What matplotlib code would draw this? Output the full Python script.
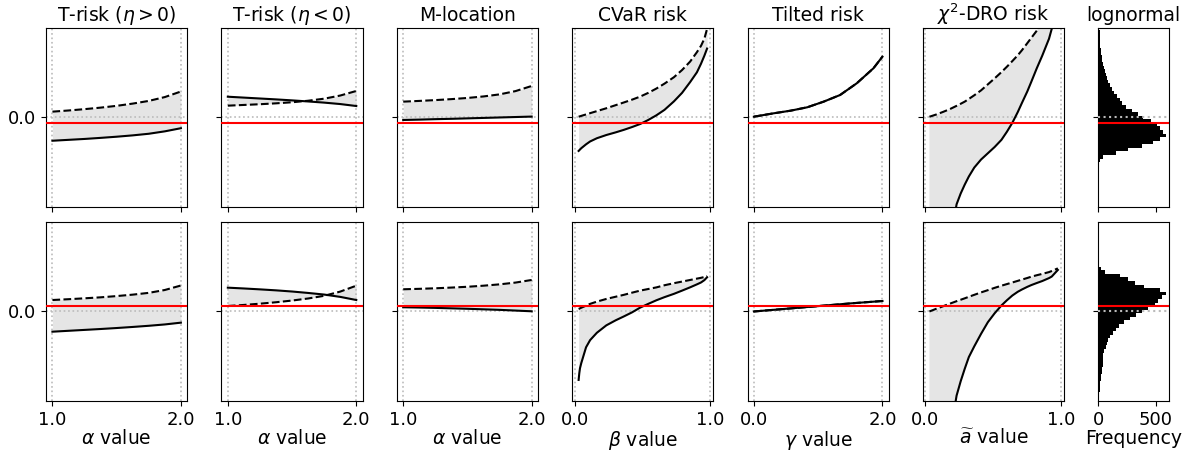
import matplotlib
matplotlib.use("Agg")
import matplotlib.pyplot as plt
import numpy as np

plt.rcParams['font.size'] = 13
plt.rcParams['axes.titlesize'] = 13.5
plt.rcParams['axes.labelsize'] = 13.5

titles = ['T-risk ($\\eta > 0$)', 'T-risk ($\\eta < 0$)', 'M-location',
          'CVaR risk', 'Tilted risk', '$\\chi^2$-DRO risk', 'lognormal']
xlabels = ['$\\alpha$ value', '$\\alpha$ value', '$\\alpha$ value',
           '$\\beta$ value', '$\\gamma$ value', '$\\widetilde{a}$ value', 'Frequency']
xticks = [[1.0, 2.0], [1.0, 2.0], [1.0, 2.0], [0.0, 1.0], [0.0, 2.0], [0.0, 1.0]]

# red reference line (true value) for each row
truth = [-0.058, 0.066]

# x grids
x_alpha = [1.0, 1.125, 1.25, 1.375, 1.5, 1.625, 1.75, 1.875, 2.0]
x_beta = [0.025, 0.03, 0.035, 0.045, 0.08, 0.11, 0.16, 0.23, 0.30, 0.36, 0.42, 0.48, 0.54,
          0.60, 0.66, 0.73, 0.79, 0.85, 0.90, 0.93, 0.955, 0.975]
x_gamma = [0.0, 0.31, 0.57, 0.83, 1.085, 1.34, 1.6, 1.86, 2.0]
x_gamma_b = [0.0, 0.5, 1.0, 1.5, 2.0]
x_a = [0.03, 0.08, 0.13, 0.18, 0.23, 0.26, 0.29, 0.32, 0.36, 0.41, 0.46, 0.51, 0.56, 0.60,
       0.64, 0.68, 0.71, 0.75, 0.78, 0.82, 0.86, 0.91, 0.93, 0.975]

# top row (dashed, solid)
tpos_dash_top = [0.065, 0.078, 0.093, 0.11, 0.13, 0.155, 0.185, 0.228, 0.29]
tpos_solid_top = [-0.26, -0.25, -0.24, -0.228, -0.215, -0.2, -0.182, -0.155, -0.12]
tneg_dash_top = [0.132, 0.14, 0.148, 0.158, 0.17, 0.187, 0.21, 0.245, 0.296]
tneg_solid_top = [0.232, 0.222, 0.212, 0.202, 0.191, 0.179, 0.166, 0.15, 0.128]
mloc_dash_top = [0.177, 0.185, 0.194, 0.205, 0.218, 0.235, 0.258, 0.295, 0.352]
mloc_solid_top = [-0.028, -0.024, -0.019, -0.015, -0.01, -0.005, 0.0, 0.005, 0.01]
cvar_dash_top = [0.009, 0.011, 0.013, 0.018, 0.034, 0.048, 0.071, 0.103, 0.138, 0.168, 0.199,
                 0.233, 0.275, 0.323, 0.378, 0.45, 0.53, 0.625, 0.73, 0.80, 0.88, 0.99]
cvar_solid_top = [-0.374, -0.366, -0.358, -0.343, -0.30, -0.268, -0.232, -0.196, -0.166, -0.138,
                  -0.107, -0.073, -0.028, 0.024, 0.085, 0.18, 0.275, 0.396, 0.505, 0.60, 0.69, 0.77]
tilt_top = [0.009, 0.047, 0.076, 0.114, 0.177, 0.251, 0.382, 0.55, 0.68]
chi_dash_top = [0.008, 0.033, 0.062, 0.093, 0.13, 0.153, 0.177, 0.207, 0.248, 0.303, 0.37, 0.437,
                0.507, 0.567, 0.63, 0.695, 0.75, 0.83, 0.89, 0.97, 1.06, 1.18, 1.23, 1.35]
chi_solid_top = [-6.0, -3.2, -2.0, -1.4, -0.97, -0.85, -0.75, -0.66, -0.56, -0.47, -0.40, -0.33,
                 -0.25, -0.16, -0.06, 0.06, 0.16, 0.29, 0.40, 0.55, 0.69, 0.88, 0.99, 1.3]

# bottom row
tpos_dash_bot = [0.128, 0.137, 0.147, 0.158, 0.172, 0.188, 0.208, 0.24, 0.29]
tpos_solid_bot = [-0.226, -0.216, -0.206, -0.196, -0.185, -0.173, -0.16, -0.145, -0.125]
tneg_dash_bot = [0.061, 0.073, 0.087, 0.103, 0.122, 0.145, 0.175, 0.222, 0.288]
tneg_solid_bot = [0.266, 0.257, 0.247, 0.236, 0.223, 0.207, 0.189, 0.163, 0.128]
mloc_dash_bot = [0.248, 0.253, 0.259, 0.267, 0.276, 0.288, 0.303, 0.323, 0.352]
mloc_solid_bot = [0.047, 0.044, 0.04, 0.035, 0.03, 0.024, 0.018, 0.01, 0.002]
cvar_dash_bot = [0.028, 0.031, 0.035, 0.042, 0.065, 0.085, 0.11, 0.14, 0.165, 0.186, 0.21, 0.233,
                 0.251, 0.269, 0.293, 0.316, 0.334, 0.352, 0.367, 0.376, 0.385, 0.397]
cvar_solid_bot = [-0.765, -0.69, -0.635, -0.575, -0.40, -0.32, -0.238, -0.155, -0.098, -0.055,
                  -0.01, 0.043, 0.085, 0.125, 0.16, 0.197, 0.233, 0.27, 0.303, 0.324, 0.35, 0.382]
tilt_bot = [0.0, 0.03, 0.06, 0.09, 0.117]
chi_dash_bot = [0.0, 0.03, 0.058, 0.087, 0.115, 0.131, 0.147, 0.164, 0.186, 0.213, 0.238, 0.264,
                0.288, 0.306, 0.324, 0.342, 0.356, 0.374, 0.389, 0.405, 0.42, 0.44, 0.452, 0.482]
chi_solid_bot = [-8.0, -3.5, -2.1, -1.4, -0.94, -0.78, -0.64, -0.51, -0.39, -0.25, -0.12, -0.02,
                 0.067, 0.125, 0.178, 0.22, 0.245, 0.275, 0.295, 0.318, 0.34, 0.373, 0.39, 0.464]

# histograms (bins of width 0.04)
hist_width = 0.04
hist_top_start = -0.50
hist_top = [15, 40, 150, 260, 380, 480, 540, 588, 565, 535, 515, 460, 390, 345, 290, 245,
            210, 185, 160, 140, 120, 100, 88, 75, 65, 55, 50, 40, 35, 30, 26, 22, 18, 15,
            13, 11, 10, 8, 7]
hist_bot_start = -1.02
hist_bot = [7, 8, 9, 10, 12, 15, 22, 25, 30, 34, 36, 38, 42, 44, 52, 65, 75, 88, 105, 125,
            150, 180, 220, 275, 330, 380, 430, 495, 525, 555, 590, 540, 400, 320, 260, 190,
            60, 20]

rows = [
    [(x_alpha, tpos_dash_top, tpos_solid_top), (x_alpha, tneg_dash_top, tneg_solid_top),
     (x_alpha, mloc_dash_top, mloc_solid_top), (x_beta, cvar_dash_top, cvar_solid_top),
     (x_gamma, tilt_top, tilt_top), (x_a, chi_dash_top, chi_solid_top)],
    [(x_alpha, tpos_dash_bot, tpos_solid_bot), (x_alpha, tneg_dash_bot, tneg_solid_bot),
     (x_alpha, mloc_dash_bot, mloc_solid_bot), (x_beta, cvar_dash_bot, cvar_solid_bot),
     (x_gamma_b, tilt_bot, tilt_bot), (x_a, chi_dash_bot, chi_solid_bot)],
]
hists = [(hist_top_start, hist_top), (hist_bot_start, hist_bot)]

fig, axes = plt.subplots(2, 7, figsize=(11.89, 4.5), dpi=100, sharex='col', sharey='row',
                         gridspec_kw={'width_ratios': [2, 2, 2, 2, 2, 2, 1]})
fig.subplots_adjust(left=0.0387, right=0.9832, top=0.9378, bottom=0.109,
                    wspace=0.26, hspace=0.084)

for r in range(2):
    for c in range(6):
        ax = axes[r, c]
        x, dash, solid = rows[r][c]
        x = np.array(x)
        ax.fill_between(x, dash, solid, color='gray', alpha=0.2, lw=0)
        ax.plot(x, solid, color='black', lw=1.5)
        ax.plot(x, dash, color='black', lw=1.5, ls='--')
        for xv in xticks[c]:
            ax.axvline(xv, color='#bbbbbb', ls=':', lw=1.2, zorder=1)
        ax.axhline(0.0, color='#bbbbbb', ls=':', lw=1.2, zorder=1)
        ax.axhline(truth[r], color='red', lw=1.5, zorder=5)
        span = x.max() - x.min()
        ax.set_xlim(x.min() - 0.05 * span, x.max() + 0.05 * span)
        ax.set_xticks(xticks[c])
        ax.set_xticklabels(['%.1f' % v for v in xticks[c]])
        if r == 0:
            ax.set_title(titles[c], pad=5)
        else:
            ax.set_xlabel(xlabels[c], labelpad=0)

    ax = axes[r, 6]
    start, counts = hists[r]
    edges = start + hist_width * np.arange(len(counts) + 1)
    ax.stairs(counts, edges, orientation='horizontal', fill=True, color='black')
    ax.axhline(0.0, color='#bbbbbb', ls=':', lw=1.5, zorder=6)
    ax.axhline(truth[r], color='red', lw=1.5, zorder=7)
    ax.set_xlim(0, 617)
    ax.set_xticks([0, 500])
    if r == 0:
        ax.set_title(titles[6], pad=5)
    else:
        ax.set_xlabel(xlabels[6], labelpad=0)

    axes[r, 0].set_ylim(-1, 1)
    axes[r, 0].set_yticks([0.0])
    axes[r, 0].set_yticklabels(['0.0'])

plt.savefig('out.png')
